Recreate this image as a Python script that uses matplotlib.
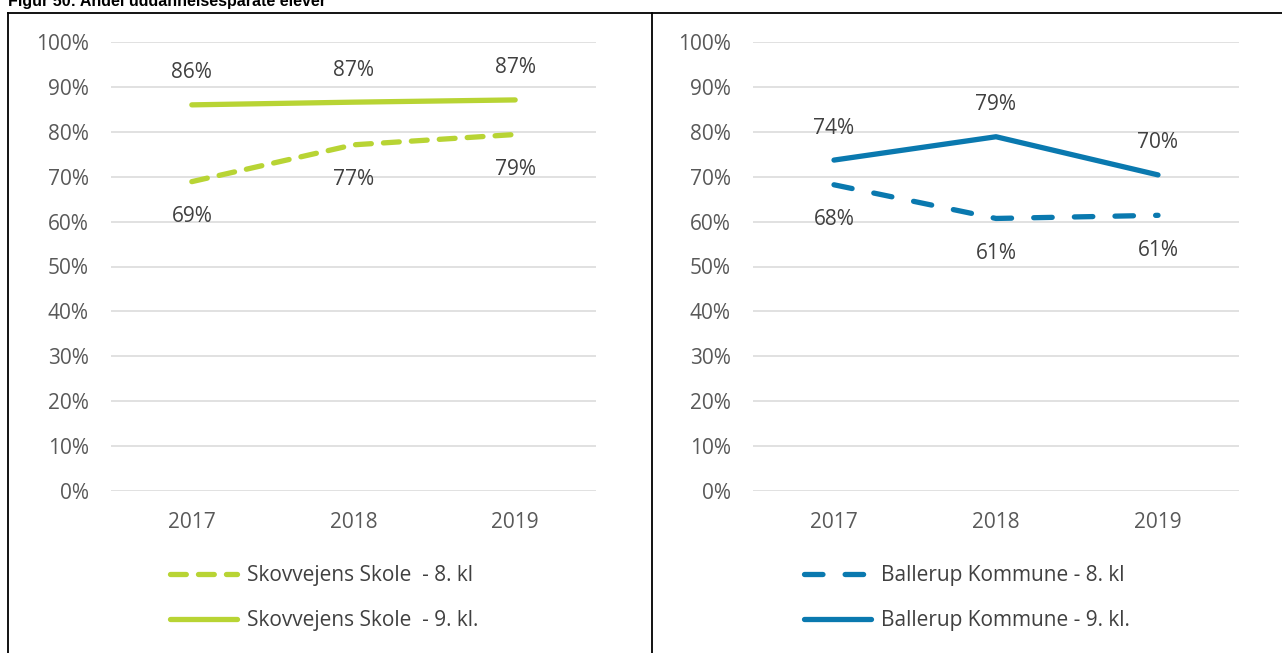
import matplotlib.pyplot as plt
from matplotlib.lines import Line2D
from matplotlib.ticker import PercentFormatter

# andel uddannelsesparate elever, skole vs. kommune
years = ["2017", "2018", "2019"]
skole_8 = [68.9, 77.1, 79.4]
skole_9 = [86.0, 86.6, 87.1]
kommune_8 = [68.2, 60.7, 61.4]
kommune_9 = [73.7, 78.9, 70.4]

green = "#B8D434"
blue = "#0A79AF"
txt = "#404040"
tick_col = "#595959"
fs = 15

plt.rcParams["font.family"] = ["Open Sans", "DejaVu Sans"]
W, H = 1282, 653
fig = plt.figure(figsize=(W / 100, H / 100), dpi=100)


def px_axes(x0, x1, y_top, y_bot):
    return fig.add_axes([x0 / W, 1 - y_bot / H, (x1 - x0) / W, (y_bot - y_top) / H])


def draw_panel(ax, s8, s9, color, dash8, lab8, lab9, leg_x):
    x = range(len(years))
    ax.plot(x, s8, color=color, lw=3.8, ls=(0, dash8), dash_capstyle="round",
            solid_capstyle="round", label=lab8)
    ax.plot(x, s9, color=color, lw=3.8, solid_capstyle="round", label=lab9)

    # values: 8. kl under the line, 9. kl over it
    for i, v in enumerate(s8):
        ax.annotate(f"{v:.0f}%", (i, v), xytext=(0, -25), textcoords="offset points",
                    ha="center", va="center", fontsize=fs, color=txt)
    for i, v in enumerate(s9):
        ax.annotate(f"{v:.0f}%", (i, v), xytext=(0, 23), textcoords="offset points",
                    ha="center", va="center", fontsize=fs, color=txt)

    ax.set_xlim(-0.5, len(years) - 0.5)
    ax.set_ylim(0, 100)
    ax.set_yticks(range(0, 101, 10))
    ax.yaxis.set_major_formatter(PercentFormatter(decimals=0))
    ax.set_xticks(list(x))
    ax.set_xticklabels(years)
    ax.grid(axis="y", color="#D9D9D9", lw=1.1)
    ax.set_axisbelow(True)
    for s in ax.spines.values():
        s.set_visible(False)
    ax.tick_params(axis="y", length=0, pad=16, labelsize=fs, labelcolor=tick_col)
    ax.tick_params(axis="x", length=0, pad=15, labelsize=fs, labelcolor=tick_col)

    ax.legend(loc="upper left", bbox_to_anchor=(leg_x / W, 1 - 565 / H),
              bbox_transform=fig.transFigure, frameon=False, fontsize=fs,
              handlelength=3.2, handletextpad=0.5, labelspacing=1.16,
              borderpad=0, borderaxespad=0, labelcolor=txt)


ax1 = px_axes(111, 596, 42, 491)
draw_panel(ax1, skole_8, skole_9, green, (3, 2.3),
           "Skovvejens Skole  - 8. kl", "Skovvejens Skole  - 9. kl.", 170)

ax2 = px_axes(753, 1239, 42, 491)
draw_panel(ax2, kommune_8, kommune_9, blue, (3.5, 4.2),
           "Ballerup Kommune - 8. kl", "Ballerup Kommune - 9. kl.", 804)

# table frame around the two charts
for xs, ys in [([8, W], [13, 13]), ([8, 8], [13, H]), ([652, 652], [13, H])]:
    fig.add_artist(Line2D([v / W for v in xs], [1 - v / H for v in ys],
                          transform=fig.transFigure, color="black", lw=1.3))

fig.text(8 / W, 1 - 6 / H, "Figur 50: Andel uddannelsesparate elever",
         ha="left", va="baseline", fontsize=11.5, fontweight="bold",
         family="Liberation Sans", color="black")

fig.savefig("out.png", dpi=100)
